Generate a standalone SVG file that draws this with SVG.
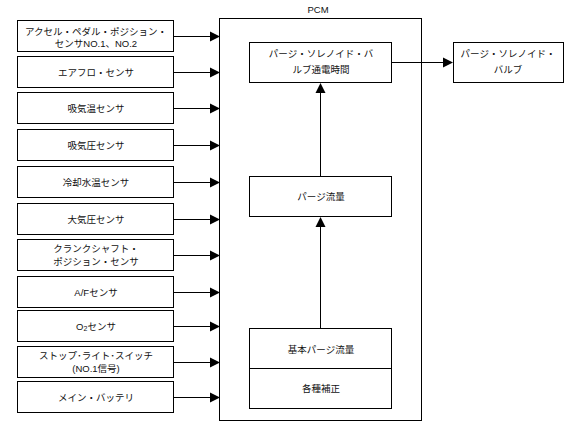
<svg xmlns="http://www.w3.org/2000/svg" width="588" height="424" viewBox="0 0 588 424">
<style>
.box{fill:#fff;stroke:#000;stroke-width:1}
.t{font-family:"Liberation Sans","Noto Sans CJK JP",sans-serif;font-size:9.5px;fill:#111;text-anchor:middle}
.ln{stroke:#000;stroke-width:1;fill:none}
.ah{fill:#000}
</style>
<rect width="588" height="424" fill="#fff"/>
<g id="pcm">
<rect class="box" x="219.5" y="18.5" width="202" height="402"/>
<text class="t" x="318" y="13">PCM</text>
</g>
<g id="in1"><rect class="box" x="17.5" y="20.5" width="156" height="31"/><text class="t" x="96" y="35">アクセル・ペダル・ポジション・</text><text class="t" x="96" y="47">センサNO.1、NO.2</text></g>
<g id="in2"><rect class="box" x="17.5" y="56.5" width="156" height="31"/><text class="t" x="96" y="75.5">エアフロ・センサ</text></g>
<g id="in3"><rect class="box" x="17.5" y="92.5" width="156" height="31"/><text class="t" x="96" y="111.5">吸気温センサ</text></g>
<g id="in4"><rect class="box" x="17.5" y="129.5" width="156" height="31"/><text class="t" x="96" y="148.5">吸気圧センサ</text></g>
<g id="in5"><rect class="box" x="17.5" y="166.5" width="156" height="31"/><text class="t" x="96" y="185.5">冷却水温センサ</text></g>
<g id="in6"><rect class="box" x="17.5" y="203.5" width="156" height="31"/><text class="t" x="96" y="222.5">大気圧センサ</text></g>
<g id="in7"><rect class="box" x="17.5" y="239.5" width="156" height="31"/><text class="t" x="96" y="252">クランクシャフト・</text><text class="t" x="96" y="265">ポジション・センサ</text></g>
<g id="in8"><rect class="box" x="17.5" y="276.5" width="156" height="31"/><text class="t" x="96" y="295.5">A/Fセンサ</text></g>
<g id="in9"><rect class="box" x="17.5" y="310.5" width="156" height="31"/><text class="t" x="96" y="329.5">O<tspan font-size="7" dy="1.5">2</tspan><tspan dy="-1.5">センサ</tspan></text></g>
<g id="in10"><rect class="box" x="17.5" y="346.5" width="156" height="31"/><text class="t" x="96" y="358.5">ストップ･ライト･スイッチ</text><text class="t" x="96" y="371.5">(NO.1信号)</text></g>
<g id="in11"><rect class="box" x="17.5" y="381.5" width="156" height="31"/><text class="t" x="96" y="400.5">メイン・バッテリ</text></g>
<g id="solenoidTime"><rect class="box" x="249.5" y="42.5" width="142" height="40"/><text class="t" x="321" y="57">パージ・ソレノイド・バ</text><text class="t" x="321" y="73">ルブ通電時間</text></g>
<g id="purgeValve"><rect class="box" x="453.5" y="42.5" width="110" height="40"/><text class="t" x="508" y="57">パージ・ソレノイド・</text><text class="t" x="508" y="73">バルブ</text></g>
<g id="purgeFlow"><rect class="box" x="249.5" y="176.5" width="142" height="40"/><text class="t" x="321" y="200">パージ流量</text></g>
<g id="baseFlow"><rect class="box" x="249.5" y="328.5" width="142" height="80"/><line class="ln" x1="249.5" y1="368.5" x2="391.5" y2="368.5"/><text class="t" x="321" y="353">基本パージ流量</text><text class="t" x="321" y="392">各種補正</text></g>
<g id="connectors">
<line class="ln" x1="174" y1="36.5" x2="211" y2="36.5"/><polygon class="ah" points="210,31.5 220,36.5 210,41.5"/>
<line class="ln" x1="174" y1="72.5" x2="211" y2="72.5"/><polygon class="ah" points="210,67.5 220,72.5 210,77.5"/>
<line class="ln" x1="174" y1="108.5" x2="211" y2="108.5"/><polygon class="ah" points="210,103.5 220,108.5 210,113.5"/>
<line class="ln" x1="174" y1="145.5" x2="211" y2="145.5"/><polygon class="ah" points="210,140.5 220,145.5 210,150.5"/>
<line class="ln" x1="174" y1="182.5" x2="211" y2="182.5"/><polygon class="ah" points="210,177.5 220,182.5 210,187.5"/>
<line class="ln" x1="174" y1="219.5" x2="211" y2="219.5"/><polygon class="ah" points="210,214.5 220,219.5 210,224.5"/>
<line class="ln" x1="174" y1="255.5" x2="211" y2="255.5"/><polygon class="ah" points="210,250.5 220,255.5 210,260.5"/>
<line class="ln" x1="174" y1="292.5" x2="211" y2="292.5"/><polygon class="ah" points="210,287.5 220,292.5 210,297.5"/>
<line class="ln" x1="174" y1="326.5" x2="211" y2="326.5"/><polygon class="ah" points="210,321.5 220,326.5 210,331.5"/>
<line class="ln" x1="174" y1="362.5" x2="211" y2="362.5"/><polygon class="ah" points="210,357.5 220,362.5 210,367.5"/>
<line class="ln" x1="174" y1="397.5" x2="211" y2="397.5"/><polygon class="ah" points="210,392.5 220,397.5 210,402.5"/>
<line class="ln" x1="392" y1="62.5" x2="444" y2="62.5"/><polygon class="ah" points="443,57.5 453,62.5 443,67.5"/>
<line class="ln" x1="320.5" y1="176" x2="320.5" y2="92"/><polygon class="ah" points="315.5,93 320.5,83 325.5,93"/>
<line class="ln" x1="320.5" y1="328" x2="320.5" y2="226"/><polygon class="ah" points="315.5,227 320.5,217 325.5,227"/>
</g>
</svg>
